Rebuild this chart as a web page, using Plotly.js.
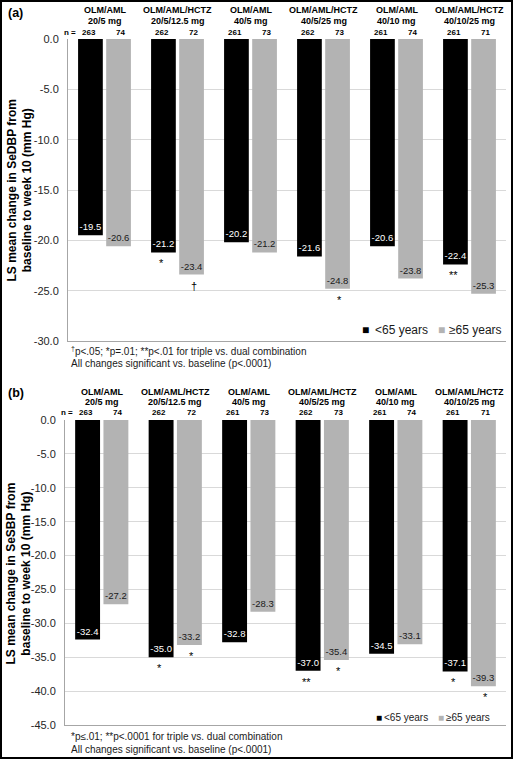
<!DOCTYPE html>
<html><head><meta charset="utf-8">
<script src="https://cdn.plot.ly/plotly-3.0.1.min.js"></script>
<style>body{margin:0;padding:0;background:#fff}#chart{width:514px;height:760px}</style>
</head><body><div id="chart"></div>
<script>
// ---- data ----
const catLine1 = ['OLM/AML', 'OLM/AML/HCTZ', 'OLM/AML', 'OLM/AML/HCTZ', 'OLM/AML', 'OLM/AML/HCTZ'];
const catLine2 = ['20/5 mg', '20/5/12.5 mg', '40/5 mg', '40/5/25 mg', '40/10 mg', '40/10/25 mg'];
const seriesNames = ['<65 years', '≥65 years'];
const nUnder65 = [263, 262, 261, 262, 261, 261];
const nOver65 = [74, 72, 73, 73, 74, 71];
const dbpUnder65 = [-19.5, -21.2, -20.2, -21.6, -20.6, -22.4];
const dbpOver65 = [-20.6, -23.4, -21.2, -24.8, -23.8, -25.3];
const sbpUnder65 = [-32.4, -35.0, -32.8, -37.0, -34.5, -37.1];
const sbpOver65 = [-27.2, -33.2, -28.3, -35.4, -33.1, -39.3];
const dbpSigUnder65 = ['', '*', '', '', '', '**'];
const dbpSigOver65 = ['', '†', '', '*', '', ''];
const sbpSigUnder65 = ['', '*', '', '**', '', '*'];
const sbpSigOver65 = ['', '*', '', '*', '', '*'];
const dbpTicks = [0, -5, -10, -15, -20, -25, -30];
const sbpTicks = [0, -5, -10, -15, -20, -25, -30, -35, -40, -45];

// ---- layout helpers ----
const W = 514, H = 760;
const px = x => x / W, py = y => 1 - y / H;
const categories = catLine1.map((a, i) => a + ' ' + catLine2[i]);
const BLACK = '#000000', GREY = '#b3b3b3';
const ARIAL = 'Arial, Liberation Sans, sans-serif';

function barTrace(vals, color, textColor, xa, ya, name) {
  return {
    type: 'bar', x: categories, y: vals, name: name, xaxis: xa, yaxis: ya,
    marker: {color: color},
    text: vals.map(v => v.toFixed(1)), textposition: 'inside', insidetextanchor: 'end',
    textangle: 0, constraintext: 'none',
    textfont: {family: ARIAL, size: 9.5, color: textColor},
    hoverinfo: 'skip', showlegend: false
  };
}

const data = [
  barTrace(dbpUnder65, BLACK, '#ffffff', 'x', 'y', seriesNames[0]),
  barTrace(dbpOver65, GREY, '#1a1a1a', 'x', 'y', seriesNames[1]),
  barTrace(sbpUnder65, BLACK, '#ffffff', 'x2', 'y2', seriesNames[0]),
  barTrace(sbpOver65, GREY, '#1a1a1a', 'x2', 'y2', seriesNames[1])
];

const ann = [];
function panelAnnotations(opt) {
  const {xr, yr, l1y, l2y, ny, nEqX, under, over, sigU, sigO} = opt;
  categories.forEach((c, i) => {
    ann.push({xref: xr, yref: 'paper', x: c, y: py(l1y), text: '<b>' + catLine1[i] + '</b>', showarrow: false, yanchor: 'middle', font: {family: ARIAL, size: 9, color: '#000'}});
    ann.push({xref: xr, yref: 'paper', x: c, y: py(l2y), text: '<b>' + catLine2[i] + '</b>', showarrow: false, yanchor: 'middle', font: {family: ARIAL, size: 9, color: '#000'}});
    ann.push({xref: xr, yref: 'paper', x: c, xshift: -16, y: py(ny), text: '<b>' + nUnder65[i] + '</b>', showarrow: false, yanchor: 'middle', font: {family: ARIAL, size: 8, color: '#000'}});
    ann.push({xref: xr, yref: 'paper', x: c, xshift: 16, y: py(ny), text: '<b>' + nOver65[i] + '</b>', showarrow: false, yanchor: 'middle', font: {family: ARIAL, size: 8, color: '#000'}});
    if (sigU[i]) ann.push({xref: xr, yref: yr, x: c, xshift: -16, y: under[i], yshift: -3, yanchor: 'top', text: sigU[i], showarrow: false, font: {family: ARIAL, size: 11, color: '#000'}});
    if (sigO[i]) ann.push({xref: xr, yref: yr, x: c, xshift: 16, y: over[i], yshift: -3, yanchor: 'top', text: sigO[i], showarrow: false, font: {family: ARIAL, size: 11, color: '#000'}});
  });
  ann.push({xref: 'paper', yref: 'paper', x: px(nEqX), y: py(ny), xanchor: 'right', yanchor: 'middle', text: '<b>n =</b>', showarrow: false, font: {family: ARIAL, size: 8, color: '#000'}});
}
panelAnnotations({xr: 'x', yr: 'y', l1y: 10, l2y: 21, ny: 33, nEqX: 78, under: dbpUnder65, over: dbpOver65, sigU: dbpSigUnder65, sigO: dbpSigOver65});
panelAnnotations({xr: 'x2', yr: 'y2', l1y: 392, l2y: 402, ny: 412, nEqX: 75, under: sbpUnder65, over: sbpOver65, sigU: sbpSigUnder65, sigO: sbpSigOver65});

function txt(x, y, text, size, extra) {
  ann.push(Object.assign({xref: 'paper', yref: 'paper', x: px(x), y: py(y), text: text, showarrow: false, xanchor: 'left', yanchor: 'middle', font: {family: ARIAL, size: size, color: '#1a1a1a'}}, extra || {}));
}
// panel labels
txt(6, 13, '<b>(a)</b>', 12.5, {font: {family: ARIAL, size: 12.5, color: '#000'}});
txt(6, 393, '<b>(b)</b>', 12.5, {font: {family: ARIAL, size: 12.5, color: '#000'}});
// y-axis titles
txt(19.5, 190, '<b>LS mean change in SeDBP from<br>baseline to week 10 (mm Hg)</b>', 12, {xanchor: 'center', textangle: -90, font: {family: ARIAL, size: 12, color: '#000'}});
txt(18.5, 574, '<b>LS mean change in SeSBP from<br>baseline to week 10 (mm Hg)</b>', 12, {xanchor: 'center', textangle: -90, font: {family: ARIAL, size: 12, color: '#000'}});
// legends
txt(360, 330, '■', 12, {font: {family: ARIAL, size: 12, color: BLACK}});
txt(373, 330, '&lt;65 years', 12);
txt(436, 330, '■', 12, {font: {family: ARIAL, size: 12, color: GREY}});
txt(447, 330, '≥65 years', 12);
txt(374, 717, '■', 10, {font: {family: ARIAL, size: 10, color: BLACK}});
txt(382, 717, '&lt;65 years', 10);
txt(436, 717, '■', 10, {font: {family: ARIAL, size: 10, color: GREY}});
txt(444, 717, '≥65 years', 10);
// footnotes
txt(69, 351, '<sup>†</sup>p&lt;.05; *p=.01; **p&lt;.01 for triple vs. dual combination', 10);
txt(69, 363, 'All changes significant vs. baseline (p&lt;.0001)', 10);
txt(69, 736, '*p≤.01; **p&lt;.0001 for triple vs. dual combination', 10);
txt(69, 749, 'All changes significant vs. baseline (p&lt;.0001)', 10);

const yAxisCommon = {
  showgrid: true, gridcolor: '#d9d9d9', gridwidth: 1, zeroline: false,
  showline: true, linecolor: '#a6a6a6', linewidth: 1, ticks: '',
  tickfont: {family: ARIAL, size: 11, color: '#262626'}, ticklabelstandoff: 6,
  tickmode: 'array', fixedrange: true
};
const xAxisCommon = {
  type: 'category', showticklabels: false, ticks: '', showgrid: false, zeroline: false,
  showline: true, linecolor: '#a6a6a6', linewidth: 1, fixedrange: true
};

const layout = {
  width: W, height: H, margin: {l: 0, r: 0, t: 0, b: 0},
  paper_bgcolor: '#fff', plot_bgcolor: '#fff', showlegend: false,
  barmode: 'group', bargap: 0.23, bargroupgap: 0.12,
  xaxis: Object.assign({}, xAxisCommon, {domain: [px(68), px(506)], anchor: 'y'}),
  yaxis: Object.assign({}, yAxisCommon, {domain: [py(341), py(39)], range: [-30, 0], tickvals: dbpTicks, ticktext: dbpTicks.map(v => v.toFixed(1)), anchor: 'x'}),
  xaxis2: Object.assign({}, xAxisCommon, {domain: [px(65), px(506)], anchor: 'y2'}),
  yaxis2: Object.assign({}, yAxisCommon, {domain: [py(725), py(420)], range: [-45, 0], tickvals: sbpTicks, ticktext: sbpTicks.map(v => v.toFixed(1)), anchor: 'x2'}),
  annotations: ann,
  shapes: [{type: 'rect', xref: 'paper', yref: 'paper', x0: px(1), x1: px(512), y0: py(758), y1: py(1), line: {color: '#000', width: 2}}]
};

Plotly.newPlot('chart', data, layout, {displayModeBar: false, staticPlot: true});
</script></body></html>
